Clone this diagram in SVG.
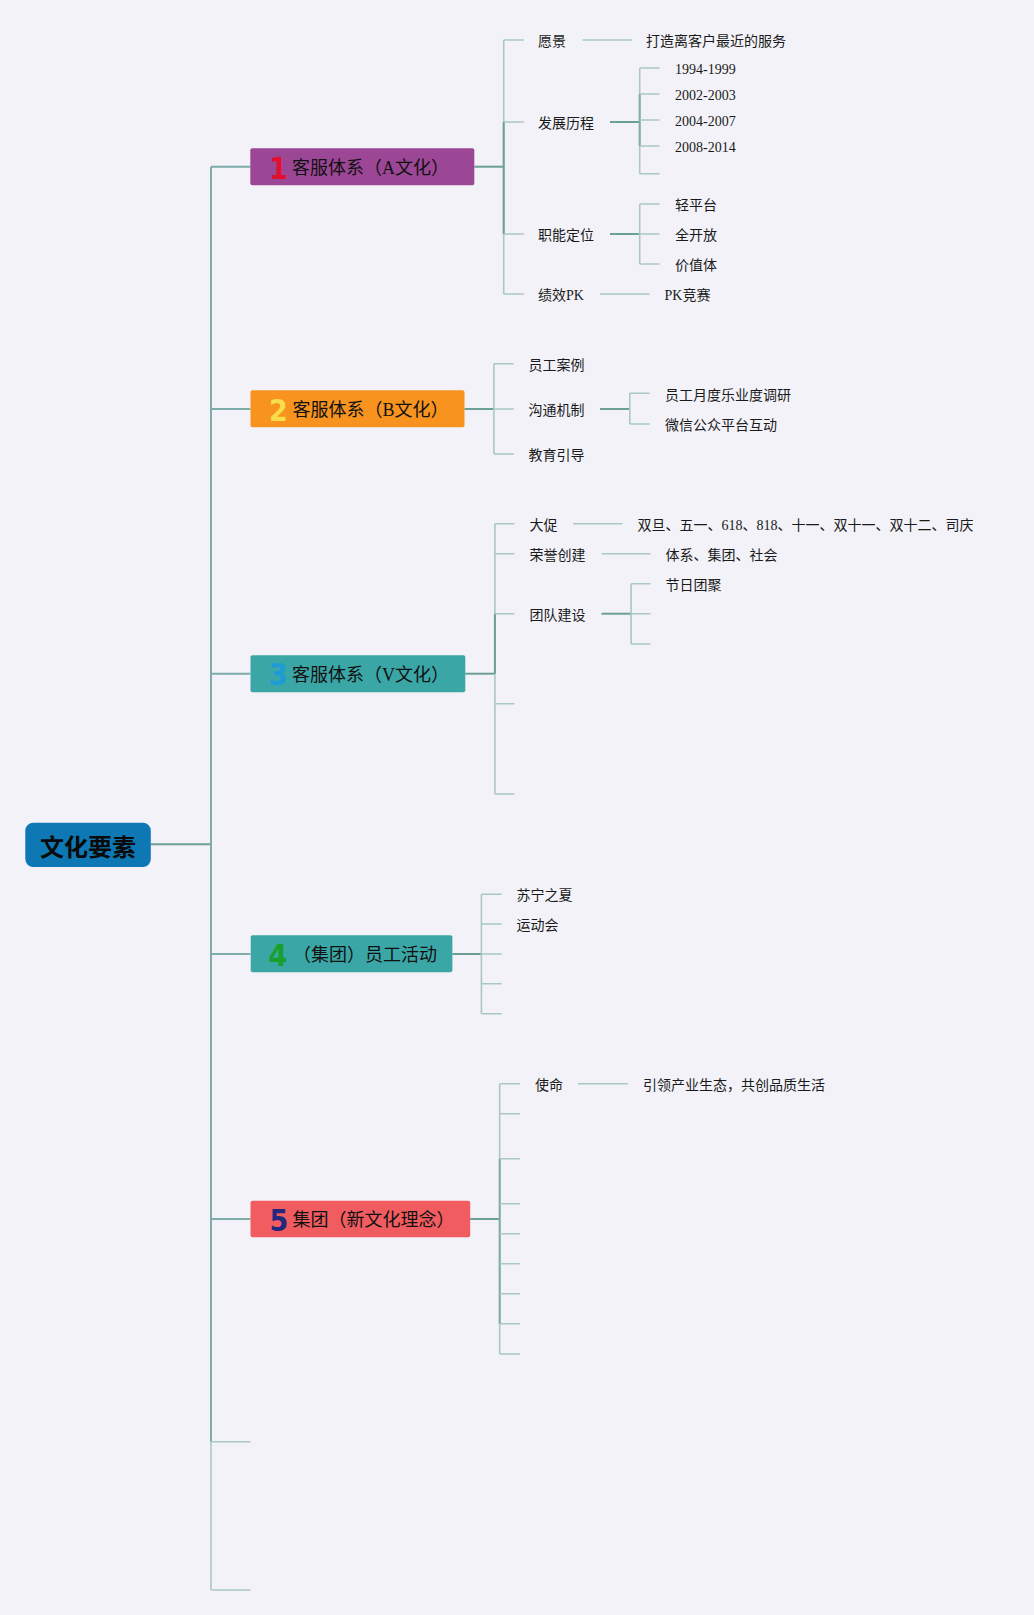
<svg xmlns="http://www.w3.org/2000/svg" width="1034" height="1615" viewBox="0 0 1034 1615">
<style>
.bg{fill:#f2f2f8}
.lt{stroke:#a9c8c5;stroke-width:1.6;fill:none}
.dk{stroke:#6b9f97;stroke-width:2;fill:none}
.md{stroke:#7eaca8;stroke-width:2;fill:none}
.t{font-family:"Liberation Serif","Noto Sans CJK SC",serif;font-size:14px;fill:#1a1a1a}
.nt{font-family:"Liberation Serif","Noto Sans CJK SC",serif;font-size:18px;fill:#111}
.num{font-family:"DejaVu Sans Condensed","Liberation Sans",sans-serif;font-size:30px;font-weight:700;text-anchor:middle}
.root{font-family:"Noto Sans CJK SC",sans-serif;font-size:24px;font-weight:700;fill:#0a0a0a;text-anchor:middle}
</style>
<rect class="bg" x="0" y="0" width="1034" height="1615"/>
<g id="connectors">
  <line class="dk" x1="151" y1="844.3" x2="211" y2="844.3"/>
  <line class="md" x1="211" y1="166.7" x2="211" y2="1441.7"/>
  <line class="lt" x1="211" y1="1441.7" x2="211" y2="1590"/>
  <line class="md" x1="211" y1="166.7" x2="250.5" y2="166.7"/>
  <line class="md" x1="211" y1="409" x2="250.5" y2="409"/>
  <line class="md" x1="211" y1="673.7" x2="250.5" y2="673.7"/>
  <line class="md" x1="211" y1="954" x2="250.5" y2="954"/>
  <line class="md" x1="211" y1="1219" x2="250.5" y2="1219"/>
  <line class="lt" x1="211" y1="1441.7" x2="250.5" y2="1441.7"/>
  <line class="lt" x1="211" y1="1590" x2="250.5" y2="1590"/>
  <line class="dk" x1="474.3" y1="166.7" x2="503.7" y2="166.7"/>
  <line class="lt" x1="503.7" y1="40" x2="503.7" y2="294"/>
  <line class="dk" x1="503.7" y1="122" x2="503.7" y2="234"/>
  <path class="lt" d="M503.7 40H523.8M503.7 122H523.8M503.7 234H523.8M503.7 294H523.8"/>
  <line class="lt" x1="582.5" y1="40" x2="632" y2="40"/>
  <line class="dk" x1="610" y1="122" x2="639.7" y2="122"/>
  <line class="lt" x1="639.7" y1="68" x2="639.7" y2="173.7"/>
  <line class="md" x1="639.7" y1="94" x2="639.7" y2="146"/>
  <path class="lt" d="M639.7 68H659.5M639.7 94H659.5M639.7 120H659.5M639.7 146H659.5M639.7 173.7H659.5"/>
  <line class="dk" x1="610" y1="234" x2="639.7" y2="234"/>
  <line class="lt" x1="639.7" y1="204" x2="639.7" y2="264"/>
  <path class="lt" d="M639.7 204H659.5M639.7 234H659.5M639.7 264H659.5"/>
  <line class="lt" x1="600" y1="294" x2="649.6" y2="294"/>
  <line class="dk" x1="464.4" y1="409" x2="493.9" y2="409"/>
  <line class="lt" x1="493.9" y1="363.7" x2="493.9" y2="454"/>
  <path class="lt" d="M493.9 363.7H513.8M493.9 409H513.8M493.9 454H513.8"/>
  <line class="dk" x1="600" y1="409" x2="629.8" y2="409"/>
  <line class="lt" x1="629.8" y1="393.3" x2="629.8" y2="424"/>
  <path class="lt" d="M629.8 393.3H649.7M629.8 424H649.7"/>
  <line class="dk" x1="465.3" y1="673.7" x2="494.9" y2="673.7"/>
  <line class="lt" x1="494.9" y1="523.7" x2="494.9" y2="794"/>
  <line class="dk" x1="494.9" y1="613.7" x2="494.9" y2="673.7"/>
  <path class="lt" d="M494.9 523.7H514.3M494.9 553.7H514.3M494.9 613.7H514.3M494.9 703.7H514.3M494.9 794H514.3"/>
  <line class="lt" x1="573" y1="523.7" x2="622.4" y2="523.7"/>
  <line class="lt" x1="601.5" y1="553.7" x2="650.5" y2="553.7"/>
  <line class="dk" x1="601.5" y1="613.7" x2="631.1" y2="613.7"/>
  <line class="lt" x1="631.1" y1="583.7" x2="631.1" y2="644"/>
  <path class="lt" d="M631.1 583.7H650.5M631.1 613.7H650.5M631.1 644H650.5"/>
  <line class="dk" x1="452.4" y1="954" x2="481.4" y2="954"/>
  <line class="lt" x1="481.4" y1="894.3" x2="481.4" y2="1013.7"/>
  <path class="lt" d="M481.4 894.3H501.7M481.4 924H501.7M481.4 954H501.7M481.4 983.7H501.7M481.4 1013.7H501.7"/>
  <line class="dk" x1="470.2" y1="1219" x2="499.7" y2="1219"/>
  <line class="lt" x1="499.7" y1="1083.7" x2="499.7" y2="1354"/>
  <line class="md" x1="499.7" y1="1158.7" x2="499.7" y2="1323.7"/>
  <path class="lt" d="M499.7 1083.7H519.9M499.7 1113.7H519.9M499.7 1158.7H519.9M499.7 1203.7H519.9M499.7 1233.7H519.9M499.7 1263.7H519.9M499.7 1293.7H519.9M499.7 1323.7H519.9M499.7 1354H519.9"/>
  <line class="lt" x1="578" y1="1083.7" x2="628" y2="1083.7"/>
</g>
<g id="root">
  <rect x="25.3" y="822.7" width="125.5" height="44.3" rx="8" fill="#0e78b4"/>
  <text class="root" x="88" y="856">文化要素</text>
</g>
<g id="node1">
  <rect x="250.3" y="148.3" width="224" height="37" rx="2" fill="#9c4696"/>
  <text class="num" x="278.5" y="178.5" fill="#e3102d">1</text>
  <text class="nt" x="292" y="174">客服体系（A文化）</text>
</g>
<g id="node1-children">
  <text class="t" x="538" y="46">愿景</text>
  <text class="t" x="646" y="46">打造离客户最近的服务</text>
  <text class="t" x="538" y="127.6">发展历程</text>
  <text class="t" x="675" y="73.6">1994-1999</text>
  <text class="t" x="675" y="99.8">2002-2003</text>
  <text class="t" x="675" y="125.8">2004-2007</text>
  <text class="t" x="675" y="151.8">2008-2014</text>
  <text class="t" x="538" y="239.6">职能定位</text>
  <text class="t" x="675" y="210">轻平台</text>
  <text class="t" x="675" y="239.6">全开放</text>
  <text class="t" x="675" y="269.6">价值体</text>
  <text class="t" x="538" y="299.5">绩效PK</text>
  <text class="t" x="664.5" y="299.5">PK竞赛</text>
</g>
<g id="node2">
  <rect x="250.5" y="390.3" width="214" height="37" rx="2" fill="#f7931e"/>
  <text class="num" x="278.5" y="420.5" fill="#fadd4a">2</text>
  <text class="nt" x="292.5" y="416">客服体系（B文化）</text>
</g>
<g id="node2-children">
  <text class="t" x="528.5" y="369.5">员工案例</text>
  <text class="t" x="528.5" y="415">沟通机制</text>
  <text class="t" x="528.5" y="460.3">教育引导</text>
  <text class="t" x="665" y="399.5">员工月度乐业度调研</text>
  <text class="t" x="665" y="429.5">微信公众平台互动</text>
</g>
<g id="node3">
  <rect x="250.5" y="655.3" width="214.8" height="37" rx="2" fill="#3aa6a6"/>
  <text class="num" x="278.5" y="685.3" fill="#1d9ad8">3</text>
  <text class="nt" x="292" y="681">客服体系（V文化）</text>
</g>
<g id="node3-children">
  <text class="t" x="529.5" y="529.6">大促</text>
  <text class="t" x="637.5" y="529.6">双旦、五一、618、818、十一、双十一、双十二、司庆</text>
  <text class="t" x="529.5" y="559.5">荣誉创建</text>
  <text class="t" x="665.5" y="559.5">体系、集团、社会</text>
  <text class="t" x="529.5" y="620">团队建设</text>
  <text class="t" x="665.5" y="590">节日团聚</text>
</g>
<g id="node4">
  <rect x="250.7" y="935.3" width="201.7" height="37" rx="2" fill="#3aa6a6"/>
  <text class="num" x="278" y="965.5" fill="#17a02a">4</text>
  <text class="nt" x="293" y="961">（集团）员工活动</text>
</g>
<g id="node4-children">
  <text class="t" x="516.5" y="900">苏宁之夏</text>
  <text class="t" x="516.5" y="930">运动会</text>
</g>
<g id="node5">
  <rect x="250.5" y="1200.7" width="219.7" height="36.6" rx="2" fill="#f15c60"/>
  <text class="num" x="279" y="1230.8" fill="#22287e">5</text>
  <text class="nt" x="292.5" y="1226">集团（新文化理念）</text>
</g>
<g id="node5-children">
  <text class="t" x="535" y="1089.5">使命</text>
  <text class="t" x="643" y="1089.5">引领产业生态，共创品质生活</text>
</g>
</svg>
